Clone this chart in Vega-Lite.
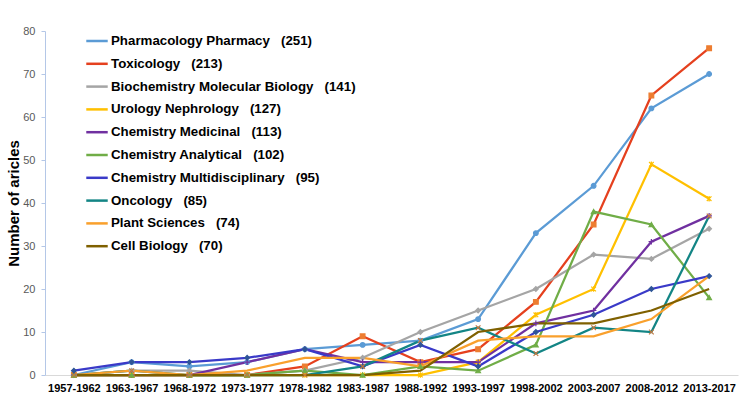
{
  "$schema": "https://vega.github.io/schema/vega-lite/v6.json",
  "width": 693,
  "height": 344,
  "autosize": {"type": "none"},
  "padding": {"left": 45, "top": 31, "right": 8, "bottom": 30},
  "background": "white",
  "config": {
    "view": {"stroke": null},
    "font": "Liberation Sans"
  },
  "data": {
    "values": [
      {"period": "1957-1962", "series": "Pharmacology Pharmacy", "value": 0},
      {"period": "1963-1967", "series": "Pharmacology Pharmacy", "value": 3},
      {"period": "1968-1972", "series": "Pharmacology Pharmacy", "value": 2},
      {"period": "1973-1977", "series": "Pharmacology Pharmacy", "value": 3},
      {"period": "1978-1982", "series": "Pharmacology Pharmacy", "value": 6},
      {"period": "1983-1987", "series": "Pharmacology Pharmacy", "value": 7},
      {"period": "1988-1992", "series": "Pharmacology Pharmacy", "value": 8},
      {"period": "1993-1997", "series": "Pharmacology Pharmacy", "value": 13},
      {"period": "1998-2002", "series": "Pharmacology Pharmacy", "value": 33},
      {"period": "2003-2007", "series": "Pharmacology Pharmacy", "value": 44},
      {"period": "2008-2012", "series": "Pharmacology Pharmacy", "value": 62},
      {"period": "2013-2017", "series": "Pharmacology Pharmacy", "value": 70},
      {"period": "1957-1962", "series": "Toxicology", "value": 0},
      {"period": "1963-1967", "series": "Toxicology", "value": 0},
      {"period": "1968-1972", "series": "Toxicology", "value": 0},
      {"period": "1973-1977", "series": "Toxicology", "value": 0},
      {"period": "1978-1982", "series": "Toxicology", "value": 2},
      {"period": "1983-1987", "series": "Toxicology", "value": 9},
      {"period": "1988-1992", "series": "Toxicology", "value": 3},
      {"period": "1993-1997", "series": "Toxicology", "value": 6},
      {"period": "1998-2002", "series": "Toxicology", "value": 17},
      {"period": "2003-2007", "series": "Toxicology", "value": 35},
      {"period": "2008-2012", "series": "Toxicology", "value": 65},
      {"period": "2013-2017", "series": "Toxicology", "value": 76},
      {"period": "1957-1962", "series": "Biochemistry Molecular Biology", "value": 0},
      {"period": "1963-1967", "series": "Biochemistry Molecular Biology", "value": 1},
      {"period": "1968-1972", "series": "Biochemistry Molecular Biology", "value": 1},
      {"period": "1973-1977", "series": "Biochemistry Molecular Biology", "value": 0},
      {"period": "1978-1982", "series": "Biochemistry Molecular Biology", "value": 1},
      {"period": "1983-1987", "series": "Biochemistry Molecular Biology", "value": 4},
      {"period": "1988-1992", "series": "Biochemistry Molecular Biology", "value": 10},
      {"period": "1993-1997", "series": "Biochemistry Molecular Biology", "value": 15},
      {"period": "1998-2002", "series": "Biochemistry Molecular Biology", "value": 20},
      {"period": "2003-2007", "series": "Biochemistry Molecular Biology", "value": 28},
      {"period": "2008-2012", "series": "Biochemistry Molecular Biology", "value": 27},
      {"period": "2013-2017", "series": "Biochemistry Molecular Biology", "value": 34},
      {"period": "1957-1962", "series": "Urology Nephrology", "value": 0},
      {"period": "1963-1967", "series": "Urology Nephrology", "value": 0},
      {"period": "1968-1972", "series": "Urology Nephrology", "value": 0},
      {"period": "1973-1977", "series": "Urology Nephrology", "value": 0},
      {"period": "1978-1982", "series": "Urology Nephrology", "value": 0},
      {"period": "1983-1987", "series": "Urology Nephrology", "value": 0},
      {"period": "1988-1992", "series": "Urology Nephrology", "value": 0},
      {"period": "1993-1997", "series": "Urology Nephrology", "value": 3},
      {"period": "1998-2002", "series": "Urology Nephrology", "value": 14},
      {"period": "2003-2007", "series": "Urology Nephrology", "value": 20},
      {"period": "2008-2012", "series": "Urology Nephrology", "value": 49},
      {"period": "2013-2017", "series": "Urology Nephrology", "value": 41},
      {"period": "1957-1962", "series": "Chemistry Medicinal", "value": 0},
      {"period": "1963-1967", "series": "Chemistry Medicinal", "value": 0},
      {"period": "1968-1972", "series": "Chemistry Medicinal", "value": 0},
      {"period": "1973-1977", "series": "Chemistry Medicinal", "value": 3},
      {"period": "1978-1982", "series": "Chemistry Medicinal", "value": 6},
      {"period": "1983-1987", "series": "Chemistry Medicinal", "value": 3},
      {"period": "1988-1992", "series": "Chemistry Medicinal", "value": 3},
      {"period": "1993-1997", "series": "Chemistry Medicinal", "value": 3},
      {"period": "1998-2002", "series": "Chemistry Medicinal", "value": 12},
      {"period": "2003-2007", "series": "Chemistry Medicinal", "value": 15},
      {"period": "2008-2012", "series": "Chemistry Medicinal", "value": 31},
      {"period": "2013-2017", "series": "Chemistry Medicinal", "value": 37},
      {"period": "1957-1962", "series": "Chemistry Analytical", "value": 0},
      {"period": "1963-1967", "series": "Chemistry Analytical", "value": 0},
      {"period": "1968-1972", "series": "Chemistry Analytical", "value": 0},
      {"period": "1973-1977", "series": "Chemistry Analytical", "value": 0},
      {"period": "1978-1982", "series": "Chemistry Analytical", "value": 1},
      {"period": "1983-1987", "series": "Chemistry Analytical", "value": 0},
      {"period": "1988-1992", "series": "Chemistry Analytical", "value": 2},
      {"period": "1993-1997", "series": "Chemistry Analytical", "value": 1},
      {"period": "1998-2002", "series": "Chemistry Analytical", "value": 7},
      {"period": "2003-2007", "series": "Chemistry Analytical", "value": 38},
      {"period": "2008-2012", "series": "Chemistry Analytical", "value": 35},
      {"period": "2013-2017", "series": "Chemistry Analytical", "value": 18},
      {"period": "1957-1962", "series": "Chemistry Multidisciplinary", "value": 1},
      {"period": "1963-1967", "series": "Chemistry Multidisciplinary", "value": 3},
      {"period": "1968-1972", "series": "Chemistry Multidisciplinary", "value": 3},
      {"period": "1973-1977", "series": "Chemistry Multidisciplinary", "value": 4},
      {"period": "1978-1982", "series": "Chemistry Multidisciplinary", "value": 6},
      {"period": "1983-1987", "series": "Chemistry Multidisciplinary", "value": 2},
      {"period": "1988-1992", "series": "Chemistry Multidisciplinary", "value": 7},
      {"period": "1993-1997", "series": "Chemistry Multidisciplinary", "value": 2},
      {"period": "1998-2002", "series": "Chemistry Multidisciplinary", "value": 10},
      {"period": "2003-2007", "series": "Chemistry Multidisciplinary", "value": 14},
      {"period": "2008-2012", "series": "Chemistry Multidisciplinary", "value": 20},
      {"period": "2013-2017", "series": "Chemistry Multidisciplinary", "value": 23},
      {"period": "1957-1962", "series": "Oncology", "value": 0},
      {"period": "1963-1967", "series": "Oncology", "value": 1},
      {"period": "1968-1972", "series": "Oncology", "value": 0},
      {"period": "1973-1977", "series": "Oncology", "value": 0},
      {"period": "1978-1982", "series": "Oncology", "value": 0},
      {"period": "1983-1987", "series": "Oncology", "value": 2},
      {"period": "1988-1992", "series": "Oncology", "value": 8},
      {"period": "1993-1997", "series": "Oncology", "value": 11},
      {"period": "1998-2002", "series": "Oncology", "value": 5},
      {"period": "2003-2007", "series": "Oncology", "value": 11},
      {"period": "2008-2012", "series": "Oncology", "value": 10},
      {"period": "2013-2017", "series": "Oncology", "value": 37},
      {"period": "1957-1962", "series": "Plant Sciences", "value": 0},
      {"period": "1963-1967", "series": "Plant Sciences", "value": 1},
      {"period": "1968-1972", "series": "Plant Sciences", "value": 0},
      {"period": "1973-1977", "series": "Plant Sciences", "value": 1},
      {"period": "1978-1982", "series": "Plant Sciences", "value": 4},
      {"period": "1983-1987", "series": "Plant Sciences", "value": 4},
      {"period": "1988-1992", "series": "Plant Sciences", "value": 2},
      {"period": "1993-1997", "series": "Plant Sciences", "value": 8},
      {"period": "1998-2002", "series": "Plant Sciences", "value": 9},
      {"period": "2003-2007", "series": "Plant Sciences", "value": 9},
      {"period": "2008-2012", "series": "Plant Sciences", "value": 13},
      {"period": "2013-2017", "series": "Plant Sciences", "value": 23},
      {"period": "1957-1962", "series": "Cell Biology", "value": 0},
      {"period": "1963-1967", "series": "Cell Biology", "value": 0},
      {"period": "1968-1972", "series": "Cell Biology", "value": 0},
      {"period": "1973-1977", "series": "Cell Biology", "value": 0},
      {"period": "1978-1982", "series": "Cell Biology", "value": 0},
      {"period": "1983-1987", "series": "Cell Biology", "value": 0},
      {"period": "1988-1992", "series": "Cell Biology", "value": 1},
      {"period": "1993-1997", "series": "Cell Biology", "value": 10},
      {"period": "1998-2002", "series": "Cell Biology", "value": 12},
      {"period": "2003-2007", "series": "Cell Biology", "value": 12},
      {"period": "2008-2012", "series": "Cell Biology", "value": 15},
      {"period": "2013-2017", "series": "Cell Biology", "value": 20}
    ]
  },
  "encoding": {
    "x": {
      "field": "period",
      "type": "ordinal",
      "sort": null,
      "scale": {"type": "point", "padding": 0.5},
      "axis": {
        "title": null,
        "labelAngle": 0,
        "labelFontSize": 11,
        "labelFontWeight": "bold",
        "labelColor": "#000000",
        "labelFont": "Liberation Sans",
        "ticks": false,
        "labelPadding": 7,
        "domainColor": "#D9D9D9",
        "domainWidth": 1,
        "grid": false
      }
    },
    "y": {
      "field": "value",
      "type": "quantitative",
      "scale": {"domain": [0, 80], "nice": false},
      "axis": {
        "title": "Number of aricles",
        "titleFontSize": 15,
        "titleFontWeight": "bold",
        "titleColor": "#000000",
        "titleFont": "Liberation Sans",
        "titlePadding": 1,
        "values": [0, 10, 20, 30, 40, 50, 60, 70, 80],
        "labelFontSize": 11,
        "labelColor": "#595959",
        "labelFont": "Liberation Sans",
        "labelPadding": 6,
        "tickSize": 4,
        "tickColor": "#B4C7E7",
        "domainColor": "#B4C7E7",
        "grid": false
      }
    }
  },
  "layer": [
    {
      "mark": {"type": "line", "strokeWidth": 2.25},
      "encoding": {
        "color": {
          "field": "series",
          "type": "nominal",
          "scale": {
            "domain": ["Pharmacology Pharmacy", "Toxicology", "Biochemistry Molecular Biology", "Urology Nephrology", "Chemistry Medicinal", "Chemistry Analytical", "Chemistry Multidisciplinary", "Oncology", "Plant Sciences", "Cell Biology"],
            "range": ["#5B9BD5", "#E5401E", "#A5A5A5", "#FFC000", "#7030A0", "#70AD47", "#3A3AC8", "#138585", "#F9A02C", "#7F6000"]
          },
          "legend": {
            "orient": "none",
            "legendX": 40,
            "legendY": -2,
            "title": null,
            "symbolType": "stroke",
            "symbolSize": 460,
            "symbolStrokeWidth": 2.5,
            "labelFontSize": 13.3,
            "labelFontWeight": "bold",
            "labelFont": "Liberation Sans",
            "labelColor": "#000000",
            "labelLimit": 500,
            "labelOffset": 2,
            "rowPadding": 3.8,
            "labelExpr": "datum.label + ({'Pharmacology Pharmacy':'\u00a0\u00a0\u00a0(251)','Toxicology':'\u00a0\u00a0\u00a0(213)','Biochemistry Molecular Biology':'\u00a0\u00a0\u00a0(141)','Urology Nephrology':'\u00a0\u00a0\u00a0(127)','Chemistry Medicinal':'\u00a0\u00a0\u00a0(113)','Chemistry Analytical':'\u00a0\u00a0\u00a0(102)','Chemistry Multidisciplinary':'\u00a0\u00a0\u00a0(95)','Oncology':'\u00a0\u00a0\u00a0(85)','Plant Sciences':'\u00a0\u00a0\u00a0(74)','Cell Biology':'\u00a0\u00a0\u00a0(70)'})[datum.label]"
          }
        }
      }
    },
    {
      "transform": [{"filter": "datum.series !== 'Plant Sciences' && datum.series !== 'Cell Biology'"}],
      "mark": {"type": "point", "filled": true, "size": 22, "strokeWidth": 1.2, "opacity": 1},
      "encoding": {
        "shape": {
          "field": "series",
          "type": "nominal",
          "scale": {
            "domain": ["Pharmacology Pharmacy", "Toxicology", "Biochemistry Molecular Biology", "Urology Nephrology", "Chemistry Medicinal", "Chemistry Analytical", "Chemistry Multidisciplinary", "Oncology"],
            "range": ["circle", "square", "diamond", "M-1,-1L1,1M-1,1L1,-1M0,-1.2L0,1.2", "M-1.2,0L1.2,0M0,-1.2L0,1.2", "triangle-up", "diamond", "M-1,-1L1,1M-1,1L1,-1"]
          },
          "legend": null
        },
        "fill": {
          "field": "series",
          "type": "nominal",
          "scale": {
            "domain": ["Pharmacology Pharmacy", "Toxicology", "Biochemistry Molecular Biology", "Urology Nephrology", "Chemistry Medicinal", "Chemistry Analytical", "Chemistry Multidisciplinary", "Oncology"],
            "range": ["#5B9BD5", "#ED7D31", "#A5A5A5", "#FFC000", "#7030A0", "#70AD47", "#2F5597", "#C07840"]
          },
          "legend": null
        },
        "stroke": {
          "field": "series",
          "type": "nominal",
          "scale": {
            "domain": ["Pharmacology Pharmacy", "Toxicology", "Biochemistry Molecular Biology", "Urology Nephrology", "Chemistry Medicinal", "Chemistry Analytical", "Chemistry Multidisciplinary", "Oncology"],
            "range": ["#5B9BD5", "#ED7D31", "#A5A5A5", "#FFC000", "#7030A0", "#70AD47", "#2F5597", "#C07840"]
          },
          "legend": null
        }
      }
    }
  ]
}
